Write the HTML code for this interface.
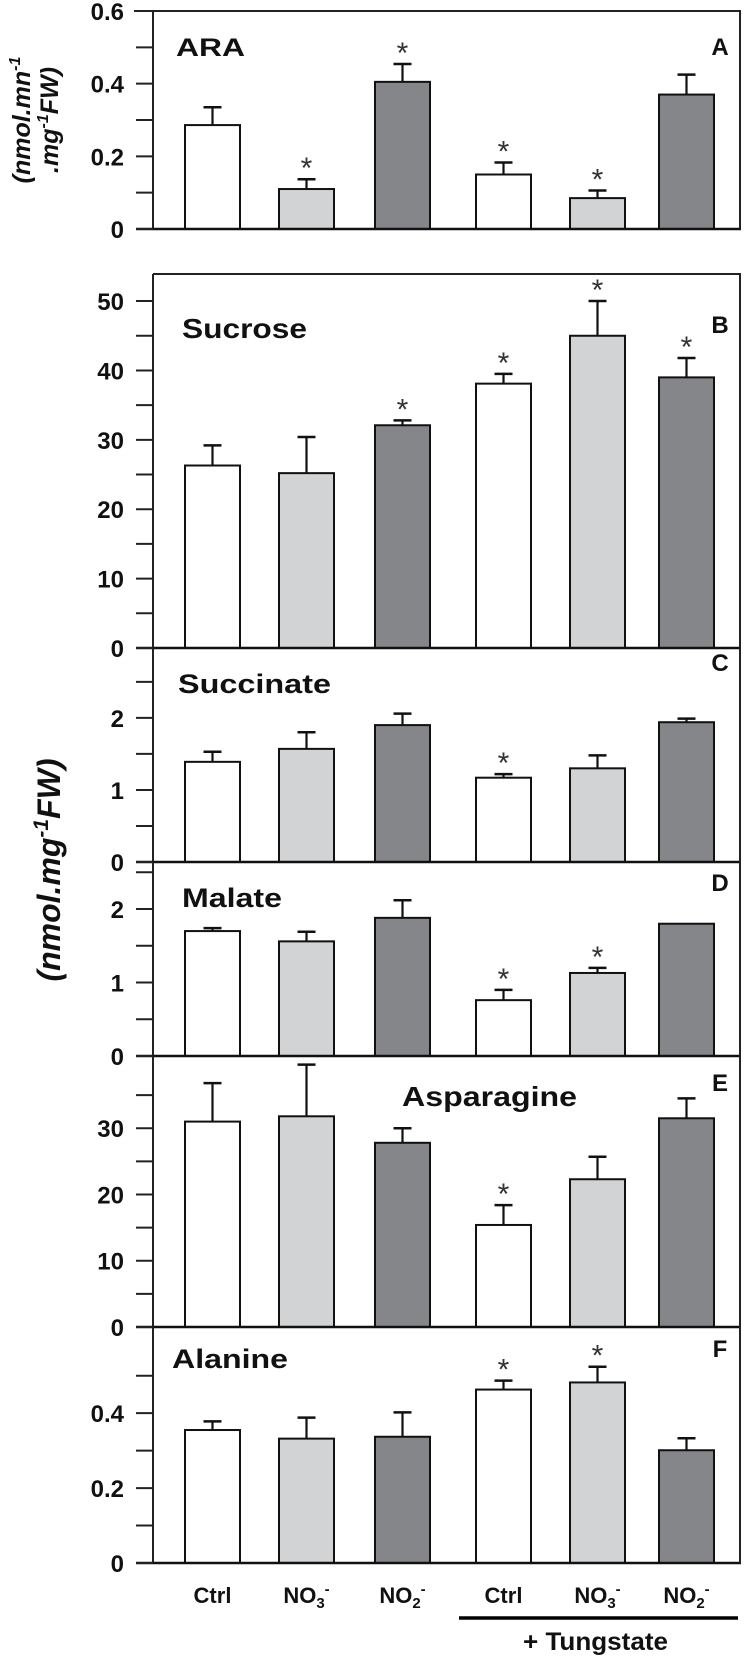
<!DOCTYPE html>
<html><head><meta charset="utf-8"><style>
html,body{margin:0;padding:0;background:#fff;}
svg{display:block;font-family:"Liberation Sans",Arial,sans-serif;}
</style></head><body>
<svg id="chart" width="744" height="1658" viewBox="0 0 744 1658" xmlns="http://www.w3.org/2000/svg"></svg>
<script>
const categories = ["Ctrl","NO3","NO2","Ctrl","NO3","NO2"];
const araValues = [0.286,0.11,0.405,0.15,0.085,0.37];
const araErrors = [0.335,0.137,0.454,0.183,0.106,0.425];
const araStars = [0,1,1,1,1,0];
const sucroseValues = [26.3,25.2,32.1,38.1,45.0,39.0];
const sucroseErrors = [29.2,30.4,32.8,39.5,50.0,41.8];
const sucroseStars = [0,0,1,1,1,1];
const succinateValues = [1.39,1.57,1.90,1.17,1.30,1.94];
const succinateErrors = [1.53,1.80,2.06,1.22,1.48,1.99];
const succinateStars = [0,0,0,1,0,0];
const malateValues = [1.70,1.56,1.88,0.76,1.13,1.80];
const malateErrors = [1.74,1.69,2.12,0.90,1.20,1.80];
const malateStars = [0,0,0,1,1,0];
const asparagineValues = [31.0,31.8,27.8,15.4,22.3,31.5];
const asparagineErrors = [36.8,39.6,30.0,18.4,25.7,34.5];
const asparagineStars = [0,0,0,1,0,0];
const alanineValues = [0.355,0.332,0.337,0.463,0.482,0.301];
const alanineErrors = [0.378,0.388,0.402,0.487,0.524,0.333];
const alanineStars = [0,0,0,1,1,0];
const araTicks = [0,0.2,0.4,0.6];
const sucroseTicks = [0,10,20,30,40,50];
const succinateTicks = [0,1,2];
const malateTicks = [0,1,2];
const asparagineTicks = [0,10,20,30];
const alanineTicks = [0,0.2,0.4];

const svg = document.getElementById('chart');
const NS = 'http://www.w3.org/2000/svg';
function mk(tag, attrs, parent){
  const e = document.createElementNS(NS, tag);
  for (const k in attrs) e.setAttribute(k, attrs[k]);
  (parent||svg).appendChild(e);
  return e;
}
const AX = 153, RX = 740;
const barX = [185,279,375,476,570,659];
const BW = 55;
const fills = ["#ffffff","#d2d3d5","#85868a","#ffffff","#d2d3d5","#85868a"];

const panels = [
 {id:'ara', title:'ARA', letter:'A', top:11, zero:229, vmax:0.6, vals:araValues, errs:araErrors, stars:araStars, ticks:araTicks, minor:[0.1,0.3,0.5], tx:176, ty:56, fs:25, tl:69, fmt:v=>v===0?'0':v.toFixed(1)},
 {id:'sucrose', title:'Sucrose', letter:'B', top:274, zero:648, vmax:53.9, vals:sucroseValues, errs:sucroseErrors, stars:sucroseStars, ticks:sucroseTicks, minor:[5,15,25,35,45], tx:182, ty:338, fs:28, tl:125, fmt:v=>String(v)},
 {id:'succinate', title:'Succinate', letter:'C', top:648, zero:862, vmax:2.97, vals:succinateValues, errs:succinateErrors, stars:succinateStars, ticks:succinateTicks, minor:[0.5,1.5,2.5], tx:178, ty:693, fs:27, tl:153, fmt:v=>String(v)},
 {id:'malate', title:'Malate', letter:'D', top:862, zero:1056, vmax:2.64, vals:malateValues, errs:malateErrors, stars:malateStars, ticks:malateTicks, minor:[0.5,1.5,2.5], tx:182, ty:907, fs:27, tl:100, fmt:v=>String(v)},
 {id:'asparagine', title:'Asparagine', letter:'E', top:1056, zero:1327, vmax:40.9, vals:asparagineValues, errs:asparagineErrors, stars:asparagineStars, ticks:asparagineTicks, minor:[5,15,25,35], tx:402, ty:1106, fs:28, tl:175, fmt:v=>String(v)},
 {id:'alanine', title:'Alanine', letter:'F', top:1327, zero:1563, vmax:0.63, vals:alanineValues, errs:alanineErrors, stars:alanineStars, ticks:alanineTicks, minor:[0.1,0.3,0.5], tx:172, ty:1368, fs:27, tl:116, fmt:v=>v===0?'0':v.toFixed(1)}
];
const letterY = {A:55, B:333, C:671, D:891, E:1091, F:1357};

panels.forEach(p => {
  const g = mk('g', {});
  
  
  const y = v => p.zero - (v / p.vmax) * (p.zero - p.top);
  p.vals.forEach((v,i) => {
    const cx = barX[i] + BW/2;
    const err = mk('line', {x1:cx, x2:cx, y1:y(v), y2:y(p.errs[i]), stroke:'#111', 'stroke-width':2.2}, g);
    
    
    if (p.errs[i] > v + 0.0001) {
      const cap = mk('line', {x1:cx-9, x2:cx+9, y1:y(p.errs[i]), y2:y(p.errs[i]), stroke:'#111', 'stroke-width':2.5}, g);
      
      
    }
    const r = mk('rect', {x:barX[i], y:y(v), width:BW, height:p.zero - y(v), fill:fills[i], stroke:'#111', 'stroke-width':2}, g);
    
    
    if (p.stars[i]) {
      const s = mk('text', {x:cx, y:y(p.errs[i]) - 1, 'text-anchor':'middle', 'font-size':30, fill:'#333'}, g);
      s.textContent = '*';
      
      
    }
  });
  const ax = mk('line', {x1:AX, x2:AX, y1:p.top, y2:p.zero, stroke:'#222', 'stroke-width':2}, g);
  
  
  const base = mk('line', {x1:136, x2:RX+1, y1:p.zero, y2:p.zero, stroke:'#111', 'stroke-width':2.6}, g);
  
  
  const rb = mk('line', {x1:RX, x2:RX, y1:p.top, y2:p.zero, stroke:'#222', 'stroke-width':2}, g);
  
  
  if (p.id === 'ara' || p.id === 'sucrose') {
    const tl = mk('line', {x1:p.id==='ara'?134:AX, x2:RX+1, y1:p.top, y2:p.top, stroke:'#222', 'stroke-width':2}, g);
    
    
  }
  p.ticks.concat(p.minor).forEach(t => {
    if (t > p.vmax + 1e-6) return;
    const tk = mk('line', {x1:136, x2:AX, y1:y(t), y2:y(t), stroke:'#222', 'stroke-width':2}, g);
    
    
  });
  p.ticks.forEach(t => {
    const lb = mk('text', {x:124, y:y(t) + 9, 'text-anchor':'end', 'font-size':24, 'font-weight':'bold', fill:'#111'}, g);
    lb.textContent = p.fmt(t);
    
    
  });
  const tt = mk('text', {x:p.tx, y:p.ty, 'font-size':p.fs, 'font-weight':'bold', fill:'#111', textLength:p.tl, lengthAdjust:'spacingAndGlyphs'}, g);
  tt.textContent = p.title;
  
  
  const lt = mk('text', {x:720, y:letterY[p.letter], 'text-anchor':'middle', 'font-size':24, 'font-weight':'bold', fill:'#111'}, g);
  lt.textContent = p.letter;
  
  
});

const xl = mk('g', {});


categories.forEach((c,i) => {
  const cx = barX[i] + BW/2;
  const t = mk('text', {x:cx, y:1603, 'text-anchor':'middle', 'font-size':22, 'font-weight':'bold', fill:'#111'}, xl);
  if (c === 'Ctrl') { t.textContent = 'Ctrl'; }
  else {
    t.textContent = 'NO';
    const sub = mk('tspan', {'font-size':15, dy:5}, t); sub.textContent = c === 'NO3' ? '3' : '2';
    const sup = mk('tspan', {'font-size':15, dy:-14}, t); sup.textContent = '-';
  }
  
  
});
const tl = mk('line', {x1:459, x2:738, y1:1618, y2:1618, stroke:'#000', 'stroke-width':3.5});


const tt = mk('text', {x:523, y:1650, 'font-size':25, 'font-weight':'bold', fill:'#111', textLength:145, lengthAdjust:'spacingAndGlyphs'});
tt.textContent = '+ Tungstate';



const ya = mk('text', {transform:'translate(30,120) rotate(-90)', 'text-anchor':'middle', 'font-size':25, 'font-weight':'bold', 'font-style':'italic', fill:'#111'});
ya.innerHTML = '<tspan>(nmol.mn</tspan><tspan font-size="16" dy="-10">-1</tspan>';


const yb = mk('text', {transform:'translate(58,120) rotate(-90)', 'text-anchor':'middle', 'font-size':25, 'font-weight':'bold', 'font-style':'italic', fill:'#111'});
yb.innerHTML = '<tspan>.mg</tspan><tspan font-size="16" dy="-10">-1</tspan><tspan dy="10">FW)</tspan>';


const ym = mk('text', {transform:'translate(60,870) rotate(-90)', 'text-anchor':'middle', 'font-size':32, 'font-weight':'bold', 'font-style':'italic', fill:'#111'});
ym.innerHTML = '<tspan>(nmol.mg</tspan><tspan font-size="21" dy="-12">-1</tspan><tspan dy="12">FW)</tspan>';


</script>
</body></html>
